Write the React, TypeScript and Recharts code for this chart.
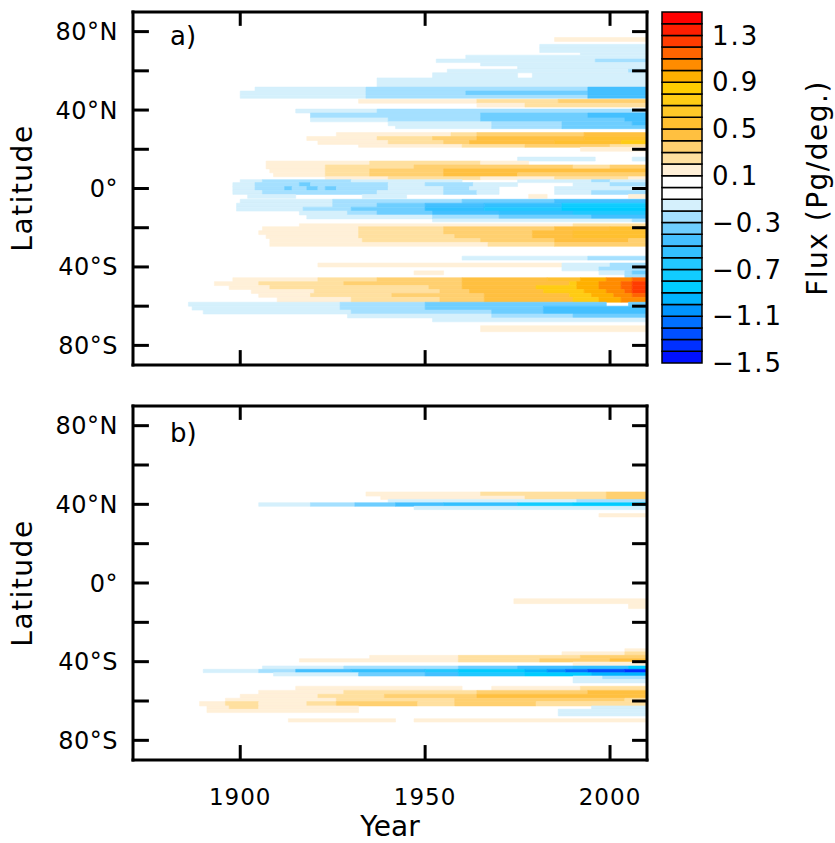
import React from "react";
import { ComposedChart, XAxis, YAxis, ReferenceArea, ReferenceLine } from "recharts";

// [start year, flux]; a run lasts until the next start (or the end of the record)
type Run = [number, number];
// [lat top, lat bottom, runs]
type Row = [number, number, Run[]];

const yearDomain = [1871, 2010];
const yearTicks = [1900, 1950, 2000];
const latDomain = [-90, 90];
const latTicks = [-80, -60, -40, -20, 0, 20, 40, 60, 80];
const latLabels = [-80, -40, 0, 40, 80];
const fluxTicks = [-1.5, -1.1, -0.7, -0.3, 0.1, 0.5, 0.9, 1.3];

const fluxLevels = [
  -1.5, -1.4, -1.3, -1.2, -1.1, -1.0, -0.9, -0.8, -0.7, -0.6, -0.5, -0.4, -0.3,
  -0.2, -0.1, 0, 0.1, 0.2, 0.3, 0.4, 0.5, 0.6, 0.7, 0.8, 0.9, 1.0, 1.1, 1.2,
  1.3, 1.4, 1.5,
];
const levelColors = [
  "#0010ff", "#0030ff", "#0050ff", "#0070ff", "#0094ff", "#00b4ff", "#00ccff",
  "#11ccff", "#22c8ff", "#33c0ff", "#44c0ff", "#6eceff", "#a5e0ff", "#d5f0fc",
  "#ffffff", "#ffffff", "#fff0d8", "#ffe0a0", "#ffd070", "#ffc040", "#ffc030",
  "#ffc828", "#ffcc14", "#ffcc00", "#ffb000", "#ff8c00", "#ff6400", "#ff3c00",
  "#ff1e00", "#ff0000",
];

const panelARows: Row[] = [
  [77, 75, [[1985, 0.15]]],
  [73.5, 71.7, [[1981, -0.15]]],
  [71.7, 69.3, [[1981, -0.15]]],
  [69.3, 68, [[1992, -0.15]]],
  [68, 66, [[1961, -0.15]]],
  [66, 64.2, [[1953, -0.15], [1996, -0.25]]],
  [64.2, 62.5, [[1965, -0.15]]],
  [62.5, 60.8, [[1975, -0.15]]],
  [60.8, 59, [[1956, -0.15], [2005, -0.25]]],
  [59, 56.4, [[1952, -0.15], [1975, 0], [1979, -0.15]]],
  [56.4, 51.7, [[1937, -0.15]]],
  [51.7, 49.7, [[1904, -0.15], [1934, -0.25], [1994, -0.45]]],
  [49.7, 47.5, [[1900, -0.15], [1934, -0.25], [1961, -0.35], [1994, -0.45]]],
  [47.5, 46, [[1900, -0.15], [1934, -0.25], [1994, -0.45]]],
  [45.5, 43.5, [[1932, 0.15], [1964, 0.25], [1986, 0.35]]],
  [43.5, 41.5, [[1964, 0.15], [1977, 0.25]]],
  [40.5, 38.5, [[1915, -0.15], [1937, -0.25]]],
  [38.5, 36, [[1919, -0.25], [1965, -0.35], [1994, -0.45]]],
  [36, 34, [[1919, -0.15], [1940, -0.25], [1965, -0.35], [2004, -0.45]]],
  [34, 32, [[1940, -0.15], [1968, -0.25], [1987, -0.35], [2006, -0.45]]],
  [32, 30.5, [[1942, -0.15], [1968, -0.25], [1987, -0.35]]],
  [28.5, 26.5, [[1926, 0.15], [1957, 0.25], [1964, 0.35], [1993, 0.45]]],
  [26.5, 24.5, [[1918, 0.15], [1937, 0.25], [1952, 0.35], [1964, 0.45], [1993, 0.55]]],
  [24.5, 22.5, [[1921, 0.15], [1940, 0.25], [1955, 0.35], [1962, 0.45], [1985, 0.55], [2003, 0.75]]],
  [22.5, 21, [[1932, 0.15], [1960, 0.25], [1977, 0.35], [2000, 0.25]]],
  [21, 19, [[1992, 0.15]]],
  [16, 14, [[1975, -0.15], [1996, 0], [2006, -0.15]]],
  [14, 12, [[1907, 0.15], [1935, 0.25], [1965, 0.15], [1978, 0]]],
  [12, 10, [[1907, 0.15], [1923, 0.25], [1947, 0.35], [1990, 0.25], [2000, 0.35]]],
  [10, 8, [[1908, 0.15], [1923, 0.25], [1935, 0.35], [1955, 0.45]]],
  [8, 6, [[1909, 0.15], [1923, 0.25], [1935, 0.35], [1955, 0.45], [1975, 0.35]]],
  [6, 4.5, [[1923, 0.15], [1940, 0.25], [1965, 0.15], [1985, 0.25], [2005, 0.15]]],
  [4.5, 3, [[1900, -0.15], [1906, -0.25], [1930, -0.15], [1960, 0], [1975, -0.15], [1995, -0.25], [2000, -0.15]]],
  [3, 1, [[1898, -0.15], [1904, -0.25], [1916, -0.35], [1919, -0.25], [1940, -0.15], [1950, -0.25], [1963, -0.15], [1975, 0], [1990, -0.15], [2000, -0.25]]],
  [1, -1, [[1898, -0.15], [1904, -0.25], [1912, -0.35], [1914, -0.25], [1918, -0.35], [1921, -0.25], [1923, -0.35], [1926, -0.25], [1940, -0.15], [1955, -0.25], [1962, -0.15], [1970, 0], [1985, -0.15]]],
  [-1, -3, [[1898, -0.15], [1906, -0.25], [1937, -0.15], [1955, -0.25], [1964, -0.15], [1970, 0], [1985, -0.15], [1995, -0.25]]],
  [-3, -5, [[1902, -0.15], [1915, 0], [1933, -0.15], [1945, 0], [1978, 0.15], [1983, 0], [2005, 0.15]]],
  [-5.5, -7.5, [[1900, -0.15], [1925, -0.25], [1960, -0.35], [1985, -0.45]]],
  [-7.5, -9.5, [[1899, -0.15], [1925, -0.25], [1937, -0.35], [1950, -0.45], [1966, -0.55], [1987, -0.75]]],
  [-9.5, -11.5, [[1899, -0.15], [1917, -0.25], [1930, -0.35], [1950, -0.55], [1966, -0.65], [1987, -0.85]]],
  [-11.5, -13.5, [[1916, -0.15], [1929, -0.25], [1937, -0.35], [1952, -0.45], [1970, -0.55], [1990, -0.65]]],
  [-13.5, -15.5, [[1918, -0.15], [1952, -0.25], [1970, -0.35], [1995, -0.45]]],
  [-15.5, -17, [[1952, -0.15], [2006, -0.25]]],
  [-18, -19.5, [[1916, 0.15], [1990, 0.25]]],
  [-19.5, -21.5, [[1906, 0.15], [1932, 0.25], [1955, 0.35], [1985, 0.45], [2000, 0.55]]],
  [-21.5, -23.5, [[1905, 0.15], [1932, 0.25], [1955, 0.35], [1979, 0.45], [1990, 0.55]]],
  [-23.5, -25.5, [[1907, 0.15], [1932, 0.25], [1958, 0.35], [1979, 0.45], [1990, 0.55]]],
  [-25.5, -27.5, [[1908, 0.15], [1933, 0.25], [1965, 0.35], [1985, 0.45], [2005, 0.35]]],
  [-27.5, -29.5, [[1908, 0.15], [1967, 0.25], [1985, 0.35]]],
  [-34.5, -36.5, [[1960, -0.15], [1994, -0.25]]],
  [-38, -40, [[1921, 0.15], [1987, -0.15], [2000, -0.25]]],
  [-40, -42, [[1987, -0.15], [1997, -0.25]]],
  [-42, -44, [[1947, 0.15], [1955, 0], [1997, -0.15], [2004, -0.25], [2006, -0.35]]],
  [-44, -45.5, [[2004, -0.25]]],
  [-45.5, -47.5, [[1898, 0.15], [1921, 0.25], [1937, 0.35], [1960, 0.45], [1983, 0.55], [1992, 0.95], [1999, 1.05], [2006, 1.15]]],
  [-47.5, -49.5, [[1893, 0.15], [1905, 0.25], [1928, 0.35], [1960, 0.45], [1989, 0.75], [1991, 0.95], [1997, 1.05], [2003, 1.15], [2006, 1.25]]],
  [-49.5, -51.5, [[1897, 0.15], [1908, 0.25], [1951, 0.35], [1960, 0.45], [1980, 0.75], [1991, 0.95], [1997, 1.05], [2003, 1.15], [2006, 1.25]]],
  [-51.5, -53.5, [[1903, 0.15], [1920, 0.25], [1954, 0.35], [1962, 0.45], [1982, 0.75], [1993, 0.95], [1999, 1.05], [2004, 1.15], [2006, 1.25]]],
  [-53.5, -55.5, [[1905, 0.15], [1919, 0.25], [1941, 0.35], [1966, 0.45], [1989, 0.75], [1995, 0.95], [2001, 1.05], [2006, 1.15]]],
  [-55.5, -58, [[1910, 0.15], [1930, 0.25], [1954, 0.35], [1966, 0.45], [1990, 0.75], [1997, 0.95], [2003, 1.05]]],
  [-58, -60, [[1886, -0.15], [1927, -0.25], [1950, -0.35], [1999, 0], [2005, -0.35]]],
  [-60, -62, [[1887, -0.15], [1927, -0.25], [1950, -0.35], [1982, -0.45]]],
  [-62, -64, [[1890, -0.15], [1930, -0.25], [1968, -0.35], [1982, -0.45]]],
  [-64, -66, [[1929, -0.15], [1968, -0.25], [1990, -0.35]]],
  [-66, -68, [[1952, -0.15]]],
  [-70, -73, [[1965, 0.15]]],
];

const panelBRows: Row[] = [
  [46.3, 44.2, [[1934, 0.15], [1965, 0.25], [1999, 0.35]]],
  [44.2, 42.5, [[1938, 0.15], [1977, 0.25], [1999, 0.35]]],
  [42.5, 40.8, [[1940, -0.15], [1991, -0.25]]],
  [40.8, 39, [[1905, -0.15], [1919, -0.25], [1931, -0.35], [1942, -0.45], [1955, -0.55], [1975, -0.75], [1990, -0.85]]],
  [39, 37.3, [[1947, -0.15]]],
  [35.3, 33.6, [[1997, 0.15]]],
  [-8, -10.5, [[1974, 0.15]]],
  [-10.5, -13, [[2005, 0.15]]],
  [-33.4, -35, [[2004, 0.15]]],
  [-35, -36.8, [[1987, 0.15], [2004, 0.25]]],
  [-36.8, -38.5, [[1935, 0.15], [1959, 0.25], [1992, 0.35]]],
  [-38.5, -40.2, [[1916, 0.15], [1959, 0.25], [1981, 0.35], [2000, 0.45]]],
  [-40.2, -41.9, [[1990, 0.15]]],
  [-42.2, -43.9, [[1906, -0.15], [1928, -0.25], [1959, -0.35], [1975, -0.45], [1990, -0.55], [2005, -0.85]]],
  [-43.9, -45.6, [[1890, -0.15], [1905, -0.25], [1915, -0.45], [1930, -0.55], [1950, -0.65], [1959, -0.85], [1977, -0.95], [1983, -1.05], [1988, -1.15], [1994, -1.25], [2004, -1.35]]],
  [-45.6, -47.3, [[1909, -0.15], [1932, -0.35], [1950, -0.45], [1959, -0.65], [1977, -0.85], [1995, -0.95]]],
  [-47.3, -49, [[1990, -0.15], [1998, -0.25]]],
  [-49, -50.8, [[1990, -0.15]]],
  [-52.5, -54.6, [[1915, 0.15], [1960, 0], [1968, 0.15], [1992, 0.25]]],
  [-54.6, -56.6, [[1905, 0.15], [1928, 0.25], [1964, 0.35], [1994, 0.45]]],
  [-56.6, -58.6, [[1900, 0.15], [1921, 0.25], [1939, 0.35], [1964, 0.45]]],
  [-58.6, -60.3, [[1896, 0.15], [1926, 0.25], [1958, 0.35], [2004, 0.25]]],
  [-60.3, -62.5, [[1889, 0.15], [1896, 0.25], [1905, 0.15], [1918, 0.25], [1926, 0.35], [1948, 0.25], [1958, 0.35], [1980, 0.25]]],
  [-62.5, -64.2, [[1891, 0.15], [1897, 0.25], [1905, 0.15], [1932, 0], [1995, -0.15]]],
  [-64.2, -65.9, [[1891, 0.15], [1932, 0], [1986, -0.15]]],
  [-65.9, -67.6, [[1986, -0.15]]],
  [-69, -70.7, [[1913, 0.15], [1942, 0], [1947, 0.15]]],
];

const FONT = "DejaVu Sans";
// inward tick lengths, in axis units
const X_TICK_LEN = 7.6; // degrees
const Y_TICK_LEN = 4.3; // years

function colorOf(v: number) {
  for (let i = 0; i < levelColors.length; i++) {
    if (v >= fluxLevels[i] && v < fluxLevels[i + 1]) return levelColors[i];
  }
  return v < 0 ? levelColors[0] : levelColors[levelColors.length - 1];
}

function toSegments(rows: Row[]) {
  const out: { x1: number; x2: number; y1: number; y2: number; color: string }[] = [];
  rows.forEach(([top, bottom, runs]) => {
    runs.forEach(([start, v], i) => {
      if (v === 0) return;
      const end = i + 1 < runs.length ? runs[i + 1][0] : yearDomain[1];
      out.push({ x1: start, x2: end, y1: bottom, y2: top, color: colorOf(v) });
    });
  });
  return out;
}

const fmtLat = (v: number) => {
  if (!latLabels.includes(v)) return "";
  if (v === 0) return "0°";
  return `${Math.abs(v)}°${v > 0 ? "N" : "S"}`;
};
const fmtFlux = (v: number) => (v < 0 ? "\u2212" : "") + Math.abs(v).toFixed(1);

const axisLine = { stroke: "#000", strokeWidth: 3, strokeLinecap: "square" as const };
const tickFont = { fontSize: 24, fill: "#000", fontFamily: FONT, letterSpacing: 0.5 };

function Panel({ rows, showYears }: { rows: Row[]; showYears: boolean }) {
  const segs = toSegments(rows);
  const [x0, x1] = yearDomain;
  const [y0, y1] = latDomain;
  const tickMarks = [
    ...yearTicks.map((t) => [{ x: t, y: y0 }, { x: t, y: y0 + X_TICK_LEN }]),
    ...yearTicks.map((t) => [{ x: t, y: y1 }, { x: t, y: y1 - X_TICK_LEN * 0.93 }]),
    ...latTicks.map((t) => [{ x: x0, y: t }, { x: x0 + Y_TICK_LEN, y: t }]),
    ...latTicks.map((t) => [{ x: x1, y: t }, { x: x1 - Y_TICK_LEN * 0.94, y: t }]),
  ];
  const margin = showYears
    ? { top: 15, right: 178, bottom: 43, left: 73 }
    : { top: 11, right: 178, bottom: 15, left: 73 };
  return (
    <ComposedChart width={835} height={showYears ? 453 : 390} data={segs} margin={margin}>
      {segs.map((s, i) => (
        <ReferenceArea
          key={i}
          xAxisId="b"
          yAxisId="l"
          x1={s.x1}
          x2={s.x2}
          y1={s.y1}
          y2={s.y2}
          fill={s.color}
          fillOpacity={1}
          stroke={s.color}
          strokeWidth={0.6}
        />
      ))}
      {tickMarks.map((seg, i) => (
        <ReferenceLine
          key={`t${i}`}
          xAxisId="b"
          yAxisId="l"
          segment={seg}
          stroke="#000"
          strokeWidth={3}
          ifOverflow="visible"
        />
      ))}
      <XAxis
        xAxisId="b"
        dataKey="x1"
        type="number"
        domain={yearDomain}
        allowDataOverflow
        ticks={yearTicks}
        interval={0}
        height={showYears ? 40 : 10}
        tickLine={false}
        tickSize={-15}
        tickMargin={44}
        fontSize={23}
        tick={showYears ? { ...tickFont, fontSize: 23, letterSpacing: 1 } : false}
        axisLine={axisLine}
      />
      <XAxis
        xAxisId="t"
        dataKey="x1"
        orientation="top"
        type="number"
        domain={yearDomain}
        allowDataOverflow
        ticks={yearTicks}
        interval={0}
        height={1}
        tickLine={false}
        tick={false}
        axisLine={axisLine}
      />
      <YAxis
        yAxisId="l"
        type="number"
        domain={latDomain}
        allowDataOverflow
        ticks={latTicks}
        interval={0}
        width={60}
        tickLine={false}
        tickSize={-16}
        tickMargin={31}
        fontSize={24}
        tickFormatter={fmtLat}
        tick={tickFont}
        axisLine={axisLine}
      />
      <YAxis
        yAxisId="r"
        orientation="right"
        type="number"
        domain={latDomain}
        allowDataOverflow
        ticks={latTicks}
        interval={0}
        width={10}
        tickLine={false}
        tick={false}
        axisLine={axisLine}
      />
    </ComposedChart>
  );
}

function ColorBar() {
  const cells = levelColors.map((c, i) => ({ x: 0.5, lo: fluxLevels[i], hi: fluxLevels[i + 1], color: c }));
  return (
    <ComposedChart width={195} height={390} data={cells} margin={{ top: 12, right: 73, bottom: 27, left: 22 }}>
      {cells.map((c, i) => (
        <ReferenceArea
          key={i}
          x1={0}
          x2={1}
          y1={c.lo}
          y2={c.hi}
          fill={c.color}
          fillOpacity={1}
          stroke="#000"
          strokeWidth={1.5}
        />
      ))}
      <XAxis dataKey="x" type="number" domain={[0, 1]} allowDataOverflow hide />
      <YAxis
        orientation="right"
        type="number"
        domain={[-1.5, 1.5]}
        allowDataOverflow
        ticks={fluxTicks}
        interval={0}
        width={60}
        axisLine={false}
        tickLine={false}
        tickSize={0}
        tickMargin={10}
        fontSize={26}
        tickFormatter={fmtFlux}
        tick={{ fontSize: 26, fill: "#000", fontFamily: FONT, letterSpacing: 2 }}
      />
    </ComposedChart>
  );
}

const titleStyle = { fontFamily: FONT, fill: "#000" };

export default function App() {
  return (
    <div style={{ position: "absolute", left: 0, top: 0, width: 835, height: 843, background: "#fff" }}>
      <div style={{ position: "absolute", left: 0, top: 0 }}>
        <Panel rows={panelARows} showYears={false} />
      </div>
      <div style={{ position: "absolute", left: 0, top: 390 }}>
        <Panel rows={panelBRows} showYears={true} />
      </div>
      <div style={{ position: "absolute", left: 640, top: 0 }}>
        <ColorBar />
      </div>
      <svg
        width={835}
        height={843}
        style={{ position: "absolute", left: 0, top: 0, pointerEvents: "none" }}
      >
        <text {...titleStyle} x={170} y={45} fontSize={26}>a)</text>
        <text {...titleStyle} x={170} y={442} fontSize={26}>b)</text>
        <text {...titleStyle} fontSize={28} letterSpacing={1.5} textAnchor="middle" dominantBaseline="central" transform="translate(22 188) rotate(-90)">Latitude</text>
        <text {...titleStyle} fontSize={28} letterSpacing={1.5} textAnchor="middle" dominantBaseline="central" transform="translate(22 583) rotate(-90)">Latitude</text>
        <text {...titleStyle} fontSize={28} letterSpacing={1.5} textAnchor="middle" dominantBaseline="central" transform="translate(817 188) rotate(-90)">Flux  (Pg/deg.)</text>
        <text {...titleStyle} fontSize={28} textAnchor="middle" x={390} y={836}>Year</text>
      </svg>
    </div>
  );
}
